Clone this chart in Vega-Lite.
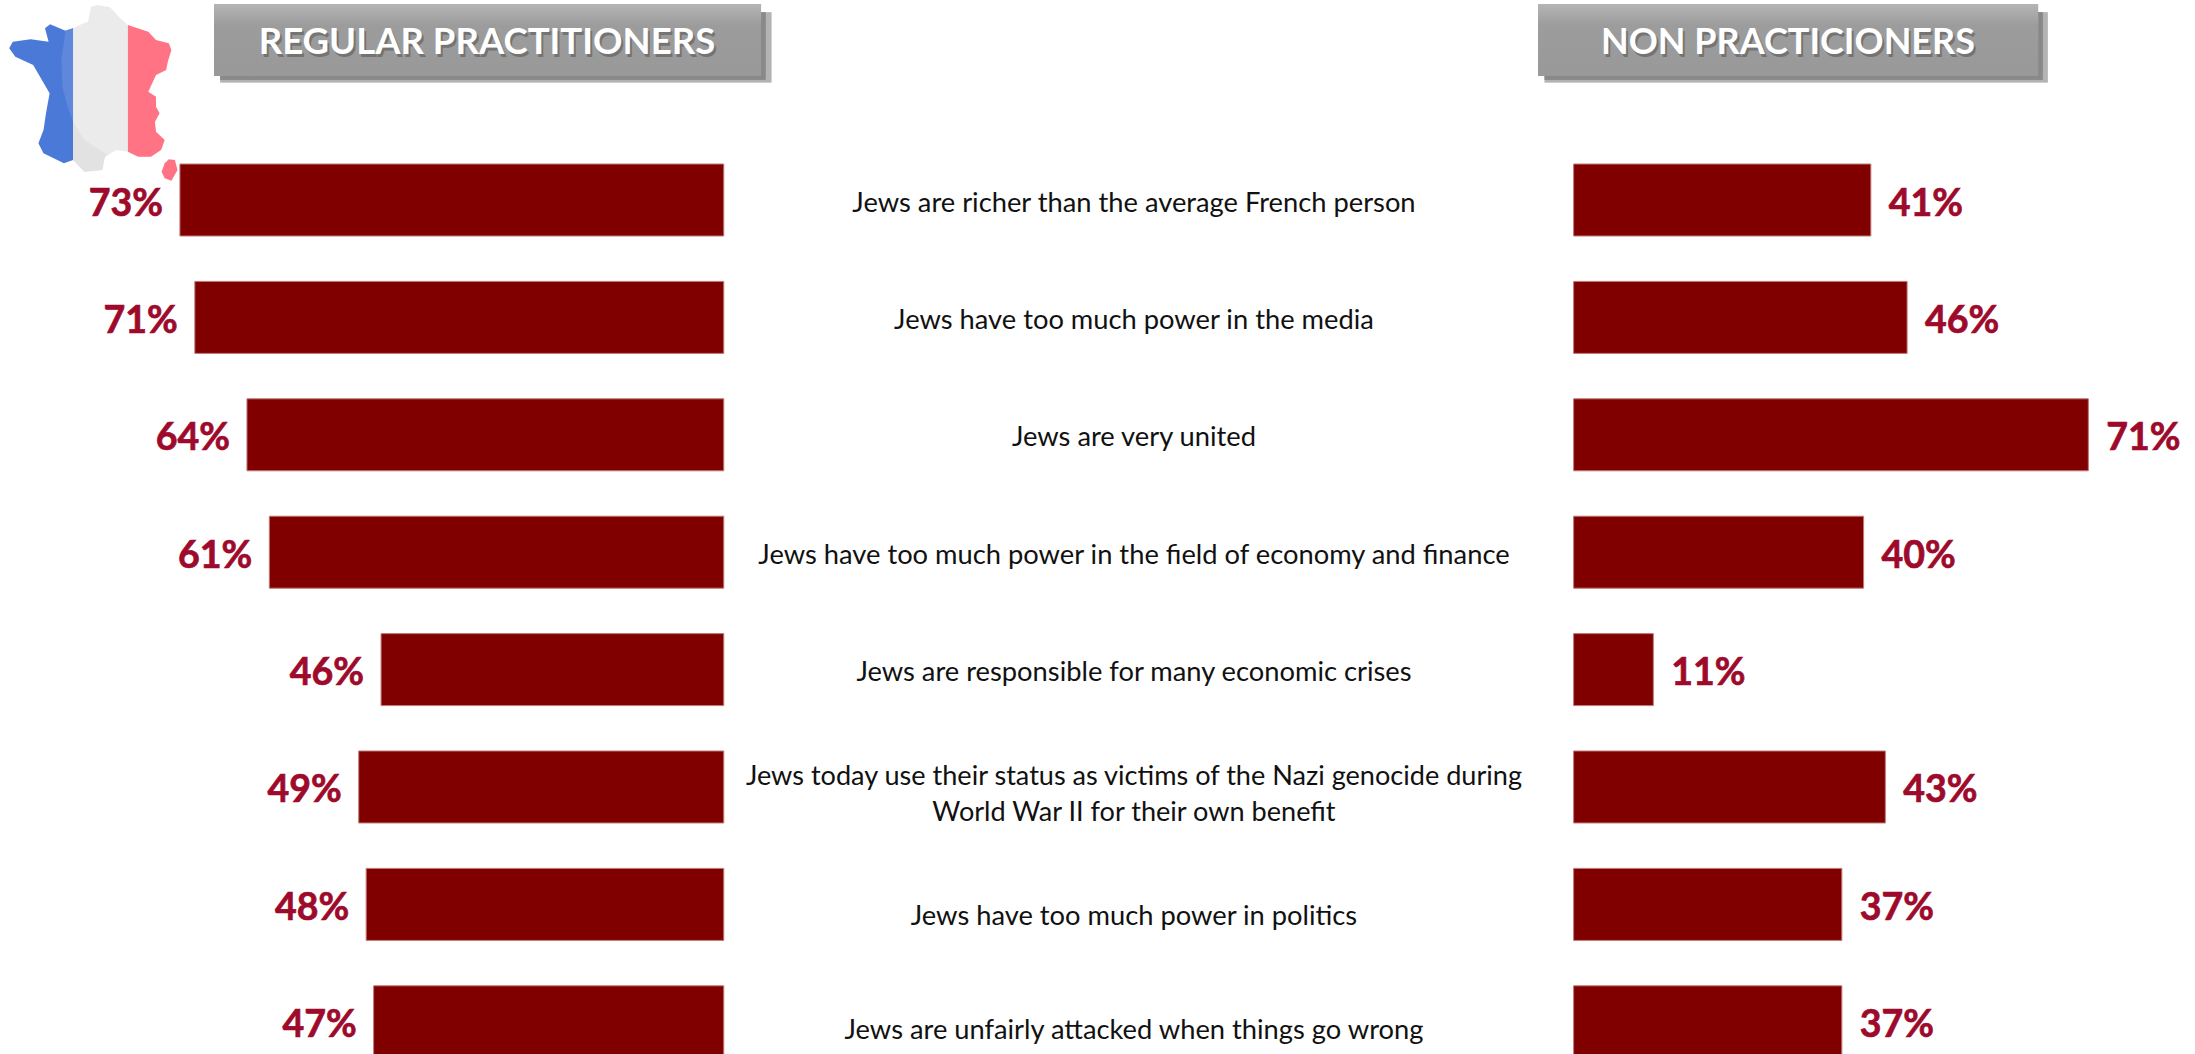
{"$schema":"https://vega.github.io/schema/vega-lite/v6.json","width":2195,"height":1054,"padding":0,"autosize":{"type":"none"},"background":"white","config":{"view":{"stroke":null},"axis":{"grid":false}},"datasets":{"rows":[{"row":1,"statement":"Jews are richer than the average French person","regular":0.73,"non":0.41},{"row":2,"statement":"Jews have too much power in the media","regular":0.71,"non":0.46},{"row":3,"statement":"Jews are very united","regular":0.64,"non":0.71},{"row":4,"statement":"Jews have too much power in the field of economy and finance","regular":0.61,"non":0.40},{"row":5,"statement":"Jews are responsible for many economic crises","regular":0.46,"non":0.11},{"row":6,"statement":"Jews today use their status as victims of the Nazi genocide during\nWorld War II for their own benefit","regular":0.49,"non":0.43},{"row":7,"statement":"Jews have too much power in politics","regular":0.48,"non":0.37},{"row":8,"statement":"Jews are unfairly attacked when things go wrong","regular":0.47,"non":0.37}]},"data":{"name":"rows"},"resolve":{"scale":{"x":"independent"}},"layer":[{"mark":{"type":"rect","color":"#808080","opacity":0.1},"encoding":{"x":{"datum":0.676,"type":"quantitative","scale":{"domain":[0.9715,-1.9748],"nice":false,"padding":0},"axis":null},"x2":{"datum":-0.064},"y":{"datum":-0.6,"type":"quantitative","scale":{"domain":[8.2743,-0.7036],"nice":false,"padding":0},"axis":null},"y2":{"datum":0.0}}},{"mark":{"type":"rect","color":"#808080","opacity":0.2},"encoding":{"x":{"datum":0.676,"type":"quantitative","scale":{"domain":[0.9715,-1.9748],"nice":false,"padding":0},"axis":null},"x2":{"datum":-0.056},"y":{"datum":-0.6,"type":"quantitative","scale":{"domain":[8.2743,-0.7036],"nice":false,"padding":0},"axis":null},"y2":{"datum":-0.025}}},{"mark":{"type":"rect","color":"#808080","opacity":0.1},"encoding":{"x":{"datum":-0.04,"type":"quantitative","scale":{"domain":[-2.1705,0.8571],"nice":false,"padding":0},"axis":null},"x2":{"datum":0.654},"y":{"datum":-0.6,"type":"quantitative","scale":{"domain":[8.2743,-0.7036],"nice":false,"padding":0},"axis":null},"y2":{"datum":0.0}}},{"mark":{"type":"rect","color":"#808080","opacity":0.2},"encoding":{"x":{"datum":-0.04,"type":"quantitative","scale":{"domain":[-2.1705,0.8571],"nice":false,"padding":0},"axis":null},"x2":{"datum":0.647},"y":{"datum":-0.6,"type":"quantitative","scale":{"domain":[8.2743,-0.7036],"nice":false,"padding":0},"axis":null},"y2":{"datum":-0.025}}},{"mark":{"type":"rect","color":{"gradient":"linear","x1":0,"y1":0,"x2":0,"y2":1,"stops":[{"offset":0,"color":"#b5b5b5"},{"offset":0.3,"color":"#9c9c9c"},{"offset":1,"color":"#999999"}]}},"encoding":{"x":{"datum":0.684,"type":"quantitative","scale":{"domain":[0.9715,-1.9748],"nice":false,"padding":0},"axis":null},"x2":{"datum":-0.05},"y":{"datum":-0.6695,"type":"quantitative","scale":{"domain":[8.2743,-0.7036],"nice":false,"padding":0},"axis":null},"y2":{"datum":-0.0562}}},{"mark":{"type":"rect","color":{"gradient":"linear","x1":0,"y1":0,"x2":0,"y2":1,"stops":[{"offset":0,"color":"#b5b5b5"},{"offset":0.3,"color":"#9c9c9c"},{"offset":1,"color":"#999999"}]}},"encoding":{"x":{"datum":-0.0483,"type":"quantitative","scale":{"domain":[-2.1705,0.8571],"nice":false,"padding":0},"axis":null},"x2":{"datum":0.6406},"y":{"datum":-0.6695,"type":"quantitative","scale":{"domain":[8.2743,-0.7036],"nice":false,"padding":0},"axis":null},"y2":{"datum":-0.0562}}},{"data":{"values":[{"panel":"REGULAR PRACTITIONERS"}]},"mark":{"type":"text","font":"Lato","fontWeight":"bold","fontSize":36.5,"color":"#555555","opacity":0.55,"dx":2,"dy":3,"align":"center","baseline":"middle"},"encoding":{"text":{"field":"panel"},"x":{"datum":0.3179,"type":"quantitative","scale":{"domain":[0.9715,-1.9748],"nice":false,"padding":0},"axis":null},"y":{"datum":-0.3373,"type":"quantitative","scale":{"domain":[8.2743,-0.7036],"nice":false,"padding":0},"axis":null}}},{"data":{"values":[{"panel":"NON PRACTICIONERS"}]},"mark":{"type":"text","font":"Lato","fontWeight":"bold","fontSize":36,"color":"#555555","opacity":0.55,"dx":2,"dy":3,"align":"center","baseline":"middle"},"encoding":{"text":{"field":"panel"},"x":{"datum":0.2957,"type":"quantitative","scale":{"domain":[-2.1705,0.8571],"nice":false,"padding":0},"axis":null},"y":{"datum":-0.3373,"type":"quantitative","scale":{"domain":[8.2743,-0.7036],"nice":false,"padding":0},"axis":null}}},{"data":{"values":[{"panel":"REGULAR PRACTITIONERS"}]},"mark":{"type":"text","font":"Lato","fontWeight":"bold","fontSize":36.5,"color":"white","align":"center","baseline":"middle"},"encoding":{"text":{"field":"panel"},"x":{"datum":0.3179,"type":"quantitative","scale":{"domain":[0.9715,-1.9748],"nice":false,"padding":0},"axis":null},"y":{"datum":-0.3373,"type":"quantitative","scale":{"domain":[8.2743,-0.7036],"nice":false,"padding":0},"axis":null}}},{"data":{"values":[{"panel":"NON PRACTICIONERS"}]},"mark":{"type":"text","font":"Lato","fontWeight":"bold","fontSize":36,"color":"white","align":"center","baseline":"middle"},"encoding":{"text":{"field":"panel"},"x":{"datum":0.2957,"type":"quantitative","scale":{"domain":[-2.1705,0.8571],"nice":false,"padding":0},"axis":null},"y":{"datum":-0.3373,"type":"quantitative","scale":{"domain":[8.2743,-0.7036],"nice":false,"padding":0},"axis":null}}},{"mark":{"type":"bar","orient":"horizontal","size":72,"color":"#800000","stroke":"#c07a7a","strokeWidth":1,"clip":true},"encoding":{"x":{"field":"regular","type":"quantitative","scale":{"domain":[0.9715,-1.9748],"nice":false,"padding":0},"axis":null},"y":{"field":"row","type":"quantitative","scale":{"domain":[8.2743,-0.7036],"nice":false,"padding":0},"axis":null}}},{"mark":{"type":"bar","orient":"horizontal","size":72,"color":"#800000","stroke":"#c07a7a","strokeWidth":1,"clip":true},"encoding":{"x":{"field":"non","type":"quantitative","scale":{"domain":[-2.1705,0.8571],"nice":false,"padding":0},"axis":null},"y":{"field":"row","type":"quantitative","scale":{"domain":[8.2743,-0.7036],"nice":false,"padding":0},"axis":null}}},{"mark":{"type":"text","font":"Lato","fontWeight":"bold","fontSize":37.5,"color":"#9d0a2b","stroke":"#9d0a2b","strokeWidth":0.7,"align":"right","baseline":"middle","dx":-17,"dy":4.5},"encoding":{"text":{"field":"regular","type":"quantitative","format":".0%"},"x":{"field":"regular","type":"quantitative","scale":{"domain":[0.9715,-1.9748],"nice":false,"padding":0},"axis":null},"y":{"field":"row","type":"quantitative","scale":{"domain":[8.2743,-0.7036],"nice":false,"padding":0},"axis":null}}},{"mark":{"type":"text","font":"Lato","fontWeight":"bold","fontSize":37.5,"color":"#9d0a2b","stroke":"#9d0a2b","strokeWidth":0.7,"align":"left","baseline":"middle","dx":18,"dy":4.5},"encoding":{"text":{"field":"non","type":"quantitative","format":".0%"},"x":{"field":"non","type":"quantitative","scale":{"domain":[-2.1705,0.8571],"nice":false,"padding":0},"axis":null},"y":{"field":"row","type":"quantitative","scale":{"domain":[8.2743,-0.7036],"nice":false,"padding":0},"axis":null}}},{"transform":[{"filter":"datum.row<=5"}],"mark":{"type":"text","font":"Lato","fontSize":27.3,"color":"#111111","align":"center","baseline":"middle","dy":3.5,"lineBreak":"\n","lineHeight":36},"encoding":{"text":{"field":"statement"},"x":{"datum":-0.5506,"type":"quantitative","scale":{"domain":[0.9715,-1.9748],"nice":false,"padding":0},"axis":null},"y":{"field":"row","type":"quantitative","scale":{"domain":[8.2743,-0.7036],"nice":false,"padding":0},"axis":null}}},{"transform":[{"filter":"datum.row==6"}],"mark":{"type":"text","font":"Lato","fontSize":27.1,"color":"#111111","align":"center","baseline":"middle","dy":-9.5,"lineBreak":"\n","lineHeight":36},"encoding":{"text":{"field":"statement"},"x":{"datum":-0.5506,"type":"quantitative","scale":{"domain":[0.9715,-1.9748],"nice":false,"padding":0},"axis":null},"y":{"field":"row","type":"quantitative","scale":{"domain":[8.2743,-0.7036],"nice":false,"padding":0},"axis":null}}},{"transform":[{"filter":"datum.row==7"}],"mark":{"type":"text","font":"Lato","fontSize":27.3,"color":"#111111","align":"center","baseline":"middle","dy":12.5,"lineBreak":"\n","lineHeight":36},"encoding":{"text":{"field":"statement"},"x":{"datum":-0.5506,"type":"quantitative","scale":{"domain":[0.9715,-1.9748],"nice":false,"padding":0},"axis":null},"y":{"field":"row","type":"quantitative","scale":{"domain":[8.2743,-0.7036],"nice":false,"padding":0},"axis":null}}},{"transform":[{"filter":"datum.row==8"}],"mark":{"type":"text","font":"Lato","fontSize":27.3,"color":"#111111","align":"center","baseline":"middle","dy":9.5,"lineBreak":"\n","lineHeight":36},"encoding":{"text":{"field":"statement"},"x":{"datum":-0.5506,"type":"quantitative","scale":{"domain":[0.9715,-1.9748],"nice":false,"padding":0},"axis":null},"y":{"field":"row","type":"quantitative","scale":{"domain":[8.2743,-0.7036],"nice":false,"padding":0},"axis":null}}},{"data":{"values":[{"type":"Feature","properties":{"part":"blue"},"geometry":{"type":"Polygon","coordinates":[[[73.1,28.3],[65.5,30.7],[50.1,24.3],[45,28.3],[48.6,41.7],[30.7,39.3],[12.8,41.7],[9.2,48.3],[15.3,56.7],[33.2,65],[40.9,78.3],[49.6,93.3],[46,113.3],[43.5,130],[38.4,143.3],[43.5,153.3],[63.9,163.3],[73.1,160],[73.1,28.3]]]}},{"type":"Feature","properties":{"part":"lightblue"},"geometry":{"type":"Polygon","coordinates":[[[73.1,28.3],[65.5,30.7],[61.4,60],[62.4,86.7],[66.5,103.3],[73.1,121.7],[73.1,28.3]]]}},{"type":"Feature","properties":{"part":"white"},"geometry":{"type":"Polygon","coordinates":[[[73.1,28.3],[81.8,24],[88,21.7],[91,6.7],[97.2,5],[110,7.3],[118.7,16.7],[127.9,25],[127.9,151.7],[116.6,150],[104.9,156.7],[102.3,170],[84.4,171.7],[73.1,160],[73.1,28.3]]]}},{"type":"Feature","properties":{"part":"shade"},"geometry":{"type":"Polygon","coordinates":[[[73.1,121.7],[84.4,140],[107.4,155],[104.9,156.7],[102.3,170],[84.4,171.7],[73.1,160],[73.1,121.7]]]}},{"type":"Feature","properties":{"part":"red"},"geometry":{"type":"Polygon","coordinates":[[[127.9,25],[148.3,31.7],[156,40],[168.8,43.3],[171.4,50],[167.8,61.7],[166.2,70],[156,75],[148.3,91.7],[156,96.7],[156,106.7],[159.6,113.3],[155,121.7],[156,131.7],[164.7,140],[161.1,150],[150.9,156.7],[138.1,156.7],[127.9,151.7],[127.9,25]]]}},{"type":"Feature","properties":{"part":"red"},"geometry":{"type":"Polygon","coordinates":[[[168.8,159.3],[174.9,160],[177.5,170],[171.4,180.7],[164.7,178.3],[161.6,171.7],[164.7,163.3],[168.8,159.3]]]}}]},"projection":{"type":"identity","scale":1,"translate":[0,0]},"mark":{"type":"geoshape","stroke":null},"encoding":{"color":{"field":"properties.part","type":"nominal","legend":null,"scale":{"domain":["blue","lightblue","white","shade","red"],"range":["#4a79d8","#5f87dc","#ebebeb","#e2e2e2","#ff7385"]}}}}]}
